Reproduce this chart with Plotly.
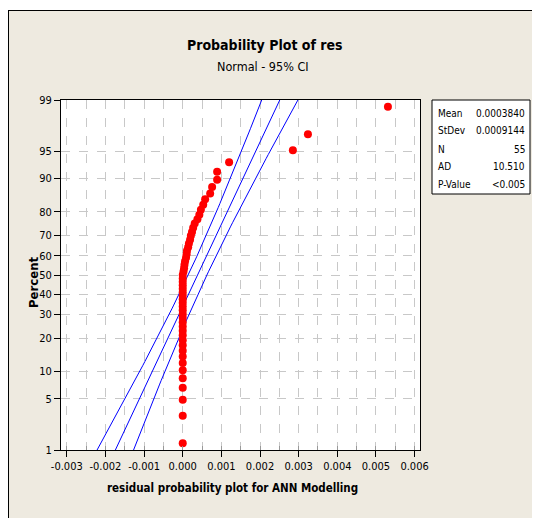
import plotly.graph_objects as go
from statistics import NormalDist

# ---- data ----
residuals = [0.0] * 28 + [
    0.00002, 0.000035, 0.000045, 0.00006, 0.000085, 0.00010, 0.00011, 0.00014,
    0.00016, 0.00019, 0.00021, 0.00024, 0.00027, 0.00031, 0.00038, 0.00043,
    0.00047, 0.00053, 0.00058, 0.00071, 0.00076, 0.00089, 0.00089, 0.00120,
    0.00285, 0.00324, 0.00531,
]
stat_labels = ["Mean", "StDev", "N", "AD", "P-Value"]
stat_values = ["0.0003840", "0.0009144", "55", "10.510", "<0.005"]
mean_val = 0.0003840
sd_val = 0.0009144
n_val = 55
pct_ticks = [1, 5, 10, 20, 30, 40, 50, 60, 70, 80, 90, 95, 99]
x_ticks = [-0.003, -0.002, -0.001, 0.0, 0.001, 0.002, 0.003, 0.004, 0.005, 0.006]
x_ticktext = ["-0.003", "-0.002", "-0.001", "0.000", "0.001", "0.002", "0.003", "0.004", "0.005", "0.006"]

nd = NormalDist()
n = len(residuals)
xs = sorted(residuals)
ys = [nd.inv_cdf((i + 1 - 0.3) / (n + 0.4)) for i in range(n)]

# fitted line and 95% CI from the stats shown
zgrid = [-3 + 0.05 * k for k in range(121)]
fit = [mean_val + z * sd_val for z in zgrid]
half = [1.96 * sd_val * ((1.0 / n_val) + z * z / (2.0 * n_val)) ** 0.5 for z in zgrid]
lo = [f - h for f, h in zip(fit, half)]
hi = [f + h for f, h in zip(fit, half)]

FONT = "Liberation Sans Narrow, DejaVu Sans Condensed, Liberation Sans, Arial, sans-serif"
BG = "#EEEAE0"

fig = go.Figure()
for arr in (lo, fit, hi):
    fig.add_trace(go.Scatter(x=arr, y=zgrid, mode="lines",
                             line=dict(color="#0000FF", width=1), hoverinfo="skip"))
fig.add_trace(go.Scatter(x=xs, y=ys, mode="markers",
                         marker=dict(color="#FF0000", size=8)))

# page offset by body margin 8px; page coords of plot area: x 61..420, y 100..450
OFF = 8
L, R, T, B = 61, 420, 100, 450
W, H = 540 - OFF, 518 - OFF
def px(x):
    return (x - L) / (R - L)
def py(y):
    return (B - y) / (B - T)

zmin, zmax = nd.inv_cdf(0.01), nd.inv_cdf(0.99)

fig.update_layout(
    width=W, height=H,
    margin=dict(l=L - OFF, r=W - (R - OFF), t=T - OFF, b=H - (B - OFF), pad=0),
    paper_bgcolor=BG, plot_bgcolor="white",
    showlegend=False,
    font=dict(family=FONT, size=11, color="black"),
    xaxis=dict(range=[-0.00315, 0.00614], tickvals=x_ticks, ticktext=x_ticktext,
               ticks="outside", ticklen=6, tickcolor="black",
               showline=True, linecolor="black", linewidth=1, mirror=True,
               showgrid=True, gridcolor="#C8C8C8", griddash="dash", gridwidth=1,
               zeroline=False,
               minor=dict(dtick=0.0005, tick0=0, ticks="inside", ticklen=4,
                          tickcolor="#999999", showgrid=True, gridcolor="#C8C8C8",
                          griddash="dash"),
               tickfont=dict(size=11, family=FONT)),
    yaxis=dict(range=[zmin, zmax], tickvals=[nd.inv_cdf(p / 100) for p in pct_ticks],
               ticktext=[str(p) for p in pct_ticks],
               ticks="outside", ticklen=6, tickcolor="black",
               showline=True, linecolor="black", linewidth=1, mirror=True,
               showgrid=True, gridcolor="#C8C8C8", griddash="dash", gridwidth=1,
               zeroline=False, tickfont=dict(size=11, family=FONT)),
)

shapes = [
    # thin white strip above the frame and frame lines
    dict(type="rect", xref="paper", yref="paper", x0=px(0), x1=px(600), y0=py(10), y1=py(0),
         fillcolor="white", line=dict(width=0), layer="below"),
    dict(type="line", xref="paper", yref="paper", x0=px(8.5), x1=px(8.5), y0=py(10), y1=py(600),
         line=dict(color="black", width=1)),
    dict(type="line", xref="paper", yref="paper", x0=px(8), x1=px(600), y0=py(10.5), y1=py(10.5),
         line=dict(color="black", width=1)),
    # stats box
    dict(type="rect", xref="paper", yref="paper", x0=px(432), x1=px(530), y0=py(194), y1=py(100),
         fillcolor="white", line=dict(color="black", width=1)),
]

ann = [
    dict(text="<b>Probability Plot of res</b>", x=px(265), y=py(45), xref="paper", yref="paper",
         showarrow=False, font=dict(size=14, family=FONT), xanchor="center", yanchor="middle"),
    dict(text="Normal - 95% CI", x=px(263), y=py(67), xref="paper", yref="paper",
         showarrow=False, font=dict(size=12.5, family=FONT), xanchor="center", yanchor="middle"),
    dict(text="<b>residual probability plot for ANN Modelling</b>", x=px(232), y=py(488),
         xref="paper", yref="paper", showarrow=False, font=dict(size=11.5, family=FONT),
         xanchor="center", yanchor="middle"),
    dict(text="<b>Percent</b>", x=px(33), y=py(283), xref="paper", yref="paper",
         showarrow=False, textangle=-90, font=dict(size=13, family=FONT),
         xanchor="center", yanchor="middle"),
]
row_y = [113, 131, 149, 166, 184]
for lab, val, yy in zip(stat_labels, stat_values, row_y):
    ann.append(dict(text=lab, x=px(436), y=py(yy), xref="paper", yref="paper", showarrow=False,
                    xanchor="left", yanchor="middle", font=dict(size=10, family=FONT)))
    ann.append(dict(text=val, x=px(527), y=py(yy), xref="paper", yref="paper", showarrow=False,
                    xanchor="right", yanchor="middle", font=dict(size=10, family=FONT)))

fig.update_layout(shapes=shapes, annotations=ann)
fig.write_html("out.html")
